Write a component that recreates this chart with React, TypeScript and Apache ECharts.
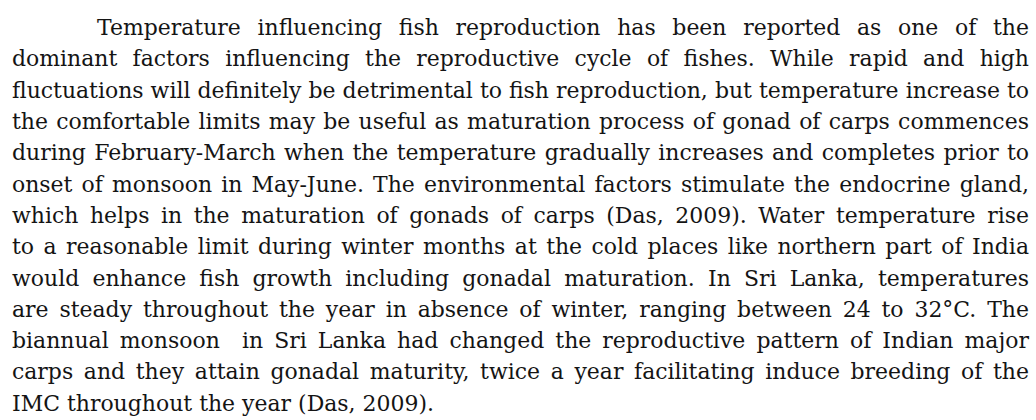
import React, { useEffect, useRef } from "react";
import * as echarts from "echarts";

// Paragraph text, one entry per printed line (line breaks as in the reference)
const paragraphLines: string[] = [
  "Temperature influencing fish reproduction has been reported as one of the",
  "dominant factors influencing the reproductive cycle of fishes. While rapid and high",
  "fluctuations will definitely be detrimental to fish reproduction, but temperature increase to",
  "the comfortable limits may be useful as maturation process of gonad of carps commences",
  "during February-March when the temperature gradually increases and completes prior to",
  "onset of monsoon in May-June. The environmental factors stimulate the endocrine gland,",
  "which helps in the maturation of gonads of carps (Das, 2009). Water temperature rise",
  "to a reasonable limit during winter months at the cold places like northern part of India",
  "would enhance fish growth including gonadal maturation. In Sri Lanka, temperatures",
  "are steady throughout the year in absence of winter, ranging between 24 to 32°C. The",
  "biannual monsoon  in Sri Lanka had changed the reproductive pattern of Indian major",
  "carps and they attain gonadal maturity, twice a year facilitating induce breeding of the",
  "IMC throughout the year (Das, 2009).",
];

export default function App() {
  const ref = useRef<HTMLDivElement>(null);

  useEffect(() => {
    if (!ref.current) return;
    const chart = echarts.init(ref.current, null, { renderer: "svg" });

    const FONT_FAMILY = "DejaVu Serif";
    const FONT_SIZE = 23;
    const LEFT = 12;
    const RIGHT = 1029;
    const INDENT = 85;
    const FIRST_BOTTOM = 38.5;
    const LINE_STEP = 31.3;
    const COLOR = "#141414";

    const canvas = document.createElement("canvas");
    const ctx = canvas.getContext("2d")!;
    ctx.font = `${FONT_SIZE}px "${FONT_FAMILY}"`;
    const measure = (t: string) => (t ? ctx.measureText(t).width : 0);

    // horizontal scale so that the widest line fits
    let sx = 1;
    paragraphLines.forEach((line, i) => {
      if (i === paragraphLines.length - 1) return;
      const avail = RIGHT - LEFT - (i === 0 ? INDENT : 0);
      const nat = measure(line);
      sx = Math.min(sx, avail / nat);
    });
    const spaceW = measure(" ") * sx;

    const elements: any[] = [];
    paragraphLines.forEach((line, i) => {
      const words = line.split(" ");
      const startX = LEFT + (i === 0 ? INDENT : 0);
      const widths = words.map((w) => measure(w) * sx);
      const total = widths.reduce((a, b) => a + b, 0);
      const isLast = i === paragraphLines.length - 1;
      const gap = isLast ? spaceW : (RIGHT - startX - total) / (words.length - 1);
      const bottom = FIRST_BOTTOM + LINE_STEP * i;
      let x = startX;
      words.forEach((w, j) => {
        if (w) {
          elements.push({
            type: "text",
            x,
            y: bottom,
            scaleX: sx,
            scaleY: 1,
            silent: true,
            style: {
              text: w,
              x: 0,
              y: 0,
              fill: COLOR,
              font: `${FONT_SIZE}px "${FONT_FAMILY}"`,
              fontFamily: FONT_FAMILY,
              fontSize: FONT_SIZE,
              textAlign: "left",
              textVerticalAlign: "bottom",
              verticalAlign: "bottom",
            },
          });
        }
        x += widths[j] + gap;
      });
    });

    chart.setOption({
      animation: false,
      backgroundColor: "#ffffff",
      graphic: { elements },
    });

    return () => chart.dispose();
  }, []);

  return (
    <div
      ref={ref}
      style={{ position: "fixed", left: 0, top: 0, width: 1036, height: 420 }}
    />
  );
}
